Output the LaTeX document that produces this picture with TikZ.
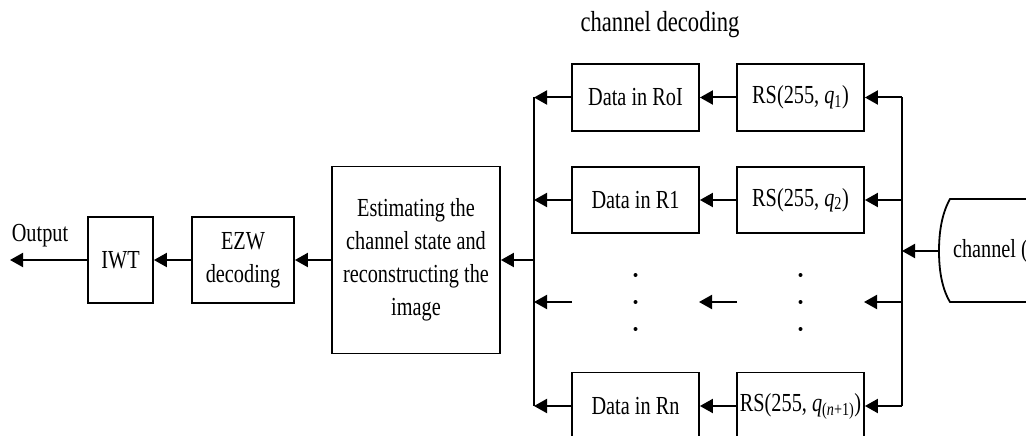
\documentclass[tikz,border=0pt]{standalone}
\usepackage{fontspec}
\setmainfont{Liberation Serif}[FakeStretch=0.78]
\usetikzlibrary{arrows.meta}
\begin{document}
\begin{tikzpicture}[x=1pt,y=-1pt,
  line width=2pt,
  every node/.style={font=\fontsize{26}{33}\selectfont},
  blk/.style={draw, line width=1.8pt, inner sep=0pt, align=center},
  flow/.style={-{Triangle[length=13pt,width=14pt]}},
  dot/.style={circle, fill, inner sep=0pt, minimum size=4pt}]
\useasboundingbox (0,0) rectangle (1026,436);
\clip (0,0) rectangle (1026,436);

% title of the decoding stage
\node (title) at (660,25) {\fontsize{29}{33}\selectfont channel decoding};

% main chain
\node[blk, minimum width=65pt, minimum height=86pt] (iwt) at (120.5,260) {IWT};
\node[blk, minimum width=102pt, minimum height=86pt] (ezw) at (243,260) {EZW\\decoding};
\node[blk, minimum width=168pt, minimum height=187pt] (est) at (416,260)
  {Estimating the\\channel state and\\reconstructing the\\image};
\node (outlbl) at (40,236) {Output};
\coordinate (out) at (10,260);

% per-region decoders
\node[blk, minimum width=127pt, minimum height=67pt] (d1) at (635.5,97.5) {Data in RoI};
\node[blk, minimum width=127pt, minimum height=66pt] (d2) at (635.5,200) {Data in R1};
\node[blk, minimum width=127pt, minimum height=67pt] (dn) at (635.5,406) {Data in Rn};
\node[blk, minimum width=127pt, minimum height=67pt] (r1) at (800.5,97.5) {RS(255, \textit{q}\textsubscript{1})};
\node[blk, minimum width=127pt, minimum height=66pt] (r2) at (800.5,200) {RS(255, \textit{q}\textsubscript{2})};
\node[blk, minimum width=127pt, minimum height=67pt] (rn) at (800.5,406) {RS(255, \textit{q}\textsubscript{(\textit{n}+1)})};

% vertical ellipses
\foreach \y [count=\i] in {275,302,329} {
  \node[dot] (dd\i) at (635.5,\y) {};
  \node[dot] (rd\i) at (800.5,\y) {};
}

% buses
\coordinate (lb1) at (534,97.5);
\coordinate (lb2) at (534,200);
\coordinate (lbm) at (534,260);
\coordinate (lbd) at (534,302);
\coordinate (lbn) at (534,406);
\coordinate (rb1) at (902,97.5);
\coordinate (rb2) at (902,200);
\coordinate (rbc) at (902,251);
\coordinate (rbd) at (902,302);
\coordinate (rbn) at (902,406);
\coordinate (dl) at (572,302);
\coordinate (dr) at (699,302);
\coordinate (rl) at (737,302);
\coordinate (rr) at (864,302);

% channel
\coordinate (chtop) at (950,199);
\coordinate (chbot) at (950,302);
\coordinate (chin) at (939,251);
\draw[line width=1.8pt] (1030,199) -- (chtop) .. controls (941,215) and (939,235) .. (chin)
  .. controls (939,267) and (941,287) .. (chbot) -- (1030,302);
\node[anchor=west, inner sep=0pt] (ch) at (952,251) {channel (};

\draw (lb1) -- (lbn);
\draw (rb1) -- (rbn);

% connectors
\draw[flow] (chin) -- (rbc);
\draw[flow] (rb1) -- (r1.east);
\draw[flow] (rb2) -- (r2.east);
\draw[flow] (rbd) -- (rr);
\draw[flow] (rbn) -- (rn.east);
\draw[flow] (r1.west) -- (d1.east);
\draw[flow] (r2.west) -- (d2.east);
\draw[flow] (rl) -- (dr);
\draw[flow] (rn.west) -- (dn.east);
\draw[flow] (d1.west) -- (lb1);
\draw[flow] (d2.west) -- (lb2);
\draw[flow] (dl) -- (lbd);
\draw[flow] (dn.west) -- (lbn);
\draw[flow] (lbm) -- (est.east);
\draw[flow] (est.west) -- (ezw.east);
\draw[flow] (ezw.west) -- (iwt.east);
\draw[flow] (iwt.west) -- (out);
\end{tikzpicture}
\end{document}
